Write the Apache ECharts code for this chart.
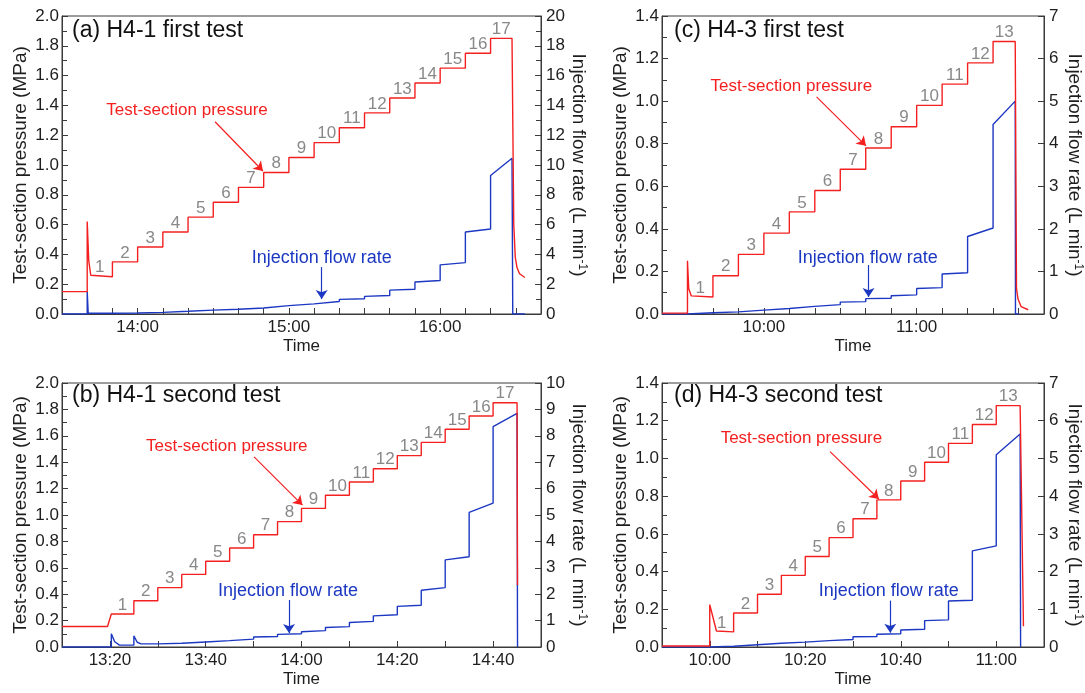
<!DOCTYPE html>
<html><head><meta charset="utf-8">
<script src="https://cdn.jsdelivr.net/npm/echarts@6/dist/echarts.min.js"></script>
<style>html,body{margin:0;padding:0;background:#fff}#c{width:1085px;height:693px}</style>
</head><body><div id="c"></div><script>
// ---------- Panel (a) H4-1 first test ----------
const stepTimesA = ['13:40','13:50','14:00','14:10','14:20','14:30','14:40','14:50','15:00','15:10','15:20','15:30','15:40','15:50','16:00','16:10','16:20'];
const stepEndA = '16:28.5';
const pressA = [0.25,0.35,0.45,0.55,0.65,0.75,0.85,0.95,1.05,1.15,1.25,1.35,1.45,1.55,1.65,1.75,1.85];
const flowStartA = [0.05,0.06,0.10,0.17,0.24,0.30,0.38,0.53,0.65,0.80,0.98,1.18,1.60,2.15,3.30,5.50,9.30];
const flowEndA   = [0.05,0.07,0.11,0.18,0.26,0.32,0.40,0.56,0.68,0.84,1.02,1.24,1.66,2.25,3.45,5.70,10.45];
const pressPreA = [['13:30',0.15],['13:40',0.15]];
const pressSpikeA = [[0, [['13:40',0.62],['13:40.6',0.36],['13:41.4',0.26]]]];
const pressPostA = [['16:29.2',0.6],['16:29.8',0.38],['16:30.5',0.31],['16:31.5',0.27],['16:33.6',0.245]];
const flowPreA = [['13:30',0],['13:40',0]];
const flowSpikeA = [[0, [['13:40',1.5],['13:40.4',0.05]]]];
const flowPostA = [['16:28.8',0],['16:33.6',0]];

// ---------- Panel (b) H4-1 second test ----------
const stepTimesB = ['13:20.3','13:25','13:30','13:35','13:40','13:45','13:50','13:55','14:00','14:05','14:10','14:15','14:20','14:25','14:30','14:35','14:40'];
const stepEndB = '14:45';
const pressB = [0.25,0.35,0.45,0.55,0.65,0.75,0.85,0.95,1.05,1.15,1.25,1.35,1.45,1.55,1.65,1.75,1.85];
const flowStartB = [0.07,0.12,0.13,0.18,0.22,0.28,0.38,0.48,0.58,0.74,0.93,1.18,1.54,2.15,3.30,5.10,8.35];
const flowEndB   = [0.07,0.12,0.14,0.19,0.24,0.30,0.40,0.50,0.62,0.77,0.97,1.22,1.58,2.25,3.42,5.45,8.85];
const pressPreB = [['13:10',0.155],['13:19.5',0.155]];
const pressSpikeB = [];
const pressPostB = [['14:45.1',0.47]];
const flowPreB = [['13:10',0],['13:20.3',0]];
const flowSpikeB = [[0, [['13:20.3',0.5],['13:21',0.2],['13:22',0.07]]], [1, [['13:25',0.42],['13:25.7',0.18],['13:26.5',0.12]]]];
const flowPostB = [['14:45.1',0]];

// ---------- Panel (c) H4-3 first test ----------
const stepTimesC = ['9:30','9:40','9:50','10:00','10:10','10:20','10:30','10:40','10:50','11:00','11:10','11:20','11:30'];
const stepEndC = '11:38.7';
const pressC = [0.08,0.18,0.28,0.38,0.48,0.58,0.68,0.78,0.88,0.98,1.08,1.18,1.28];
const flowStartC = [0.02,0.05,0.08,0.12,0.17,0.21,0.28,0.36,0.43,0.60,0.94,1.82,4.45];
const flowEndC   = [0.03,0.05,0.09,0.13,0.18,0.22,0.29,0.37,0.45,0.62,0.97,2.02,5.00];
const pressPreC = [['9:20',0.004],['9:30',0.004]];
const pressSpikeC = [[0, [['9:30',0.25],['9:30.5',0.12],['9:31.5',0.085]]]];
const pressPostC = [['11:39.2',0.12],['11:39.8',0.07],['11:41',0.035],['11:43.8',0.02]];
const flowPreC = [['9:20',0],['9:30',0]];
const flowSpikeC = [];
const flowPostC = [['11:38.8',0],['11:40',0]];

// ---------- Panel (d) H4-3 second test ----------
const stepTimesD = ['10:00','10:05','10:10','10:15','10:20','10:25','10:30','10:35','10:40','10:45','10:50','10:55','11:00'];
const stepEndD = '11:05';
const pressD = [0.08,0.18,0.28,0.38,0.48,0.58,0.68,0.78,0.88,0.98,1.08,1.18,1.28];
const flowStartD = [0.02,0.05,0.09,0.12,0.16,0.19,0.27,0.34,0.45,0.70,1.22,2.55,5.10];
const flowEndD   = [0.02,0.06,0.10,0.13,0.17,0.20,0.28,0.35,0.47,0.72,1.24,2.68,5.65];
const pressPreD = [['9:50',0.005],['10:00',0.005]];
const pressSpikeD = [[0, [['10:00',0.225],['10:01.4',0.085]]]];
const pressPostD = [['11:05.7',0.11]];
const flowPreD = [['9:50',0],['10:00',0]];
const flowSpikeD = [];
const flowPostD = [['11:05.1',0]];

// ---------- Annotations (data coordinates: time, value) ----------
const annoA = {pText:['14:19.6',1.37], pFrom:['14:30.7',1.29], pTo:['14:49.7',0.96], fText:['15:13',3.76], fFrom:['15:13',3.15], fTo:['15:13',1.0]};
const annoB = {pText:['13:44.4',1.52], pFrom:['13:50.1',1.44], pTo:['14:00.2',1.075], fText:['13:57.2',2.12], fFrom:['13:57.4',1.78], fTo:['13:57.4',0.53]};
const annoC = {pText:['10:10.8',1.07], pFrom:['10:20.7',1.02], pTo:['10:40.1',0.79], fText:['10:40.8',1.315], fFrom:['10:41.1',1.15], fTo:['10:41.1',0.40]};
const annoD = {pText:['10:19.2',1.108], pFrom:['10:25.2',1.036], pTo:['10:35.4',0.785], fText:['10:37.5',1.49], fFrom:['10:37.8',1.23], fTo:['10:37.8',0.38]};

const titles = ['(a) H4-1 first test','(b) H4-1 second test','(c) H4-3 first test','(d) H4-3 second test'];

// ---------- helpers ----------
const FONT = '"Liberation Sans", Arial, Helvetica, sans-serif';
const RED = '#f42020', BLUE = '#1c38c2', AX = '#3a3a3a', TXT = '#1e1e1e';
function hm(s){ const [h,m] = s.split(':'); return (+h)*60 + parseFloat(m); }
function fmtHM(v){ const h = Math.floor(v/60), m = Math.round(v - h*60); return h + ':' + String(m).padStart(2,'0'); }
function buildStep(pre, spikes, times, end, startVals, endVals, post){
  const pts = pre.map(([t,v]) => [hm(t), v]);
  const n = times.length;
  for (let i = 0; i < n; i++){
    let s = hm(times[i]);
    const e = i + 1 < n ? hm(times[i+1]) : hm(end);
    const sp = spikes.find(x => x[0] === i);
    if (sp){ sp[1].forEach(([t,v]) => pts.push([hm(t), v])); s = hm(sp[1][sp[1].length-1][0]); }
    pts.push([s, startVals[i]]);
    pts.push([e, endVals[i]]);
  }
  post.forEach(([t,v]) => pts.push([hm(t), v]));
  return pts;
}
function stepLabels(times, end, levels){
  return times.map((t,i) => {
    const s = hm(t), e = i + 1 < times.length ? hm(times[i+1]) : hm(end);
    return [(s+e)/2, levels[i], i+1];
  });
}
const C = a => [hm(a[0]), a[1]];

const panels = [
  {grid:{left:62, top:16, width:479, height:298}, xMin:'13:30', xMax:'16:40', every:60, pMax:2.0, fMax:20, fInt:2, fMinor:true, titleLeft:72, titleTop:19,
   times:stepTimesA, end:stepEndA, press:pressA, fS:flowStartA, fE:flowEndA, pPre:pressPreA, pSp:pressSpikeA, pPost:pressPostA, fPre:flowPreA, fSp:flowSpikeA, fPost:flowPostA, anno:annoA},
  {grid:{left:62, top:383, width:479, height:264}, xMin:'13:10', xMax:'14:50', every:20, pMax:2.0, fMax:10, fInt:1, fMinor:false, titleLeft:72, titleTop:384,
   times:stepTimesB, end:stepEndB, press:pressB, fS:flowStartB, fE:flowEndB, pPre:pressPreB, pSp:pressSpikeB, pPost:pressPostB, fPre:flowPreB, fSp:flowSpikeB, fPost:flowPostB, anno:annoB},
  {grid:{left:662, top:16, width:383, height:298}, xMin:'9:20', xMax:'11:50', every:60, pMax:1.4, fMax:7, fInt:1, fMinor:false, titleLeft:674, titleTop:19,
   times:stepTimesC, end:stepEndC, press:pressC, fS:flowStartC, fE:flowEndC, pPre:pressPreC, pSp:pressSpikeC, pPost:pressPostC, fPre:flowPreC, fSp:flowSpikeC, fPost:flowPostC, anno:annoC},
  {grid:{left:662, top:383, width:383, height:264}, xMin:'9:50', xMax:'11:10', every:20, pMax:1.4, fMax:7, fInt:1, fMinor:false, titleLeft:674, titleTop:384,
   times:stepTimesD, end:stepEndD, press:pressD, fS:flowStartD, fE:flowEndD, pPre:pressPreD, pSp:pressSpikeD, pPost:pressPostD, fPre:flowPreD, fSp:flowSpikeD, fPost:flowPostD, anno:annoD}
];

const tickStyle = {color: AX, width: 1};
const option = {
  animation: false,
  backgroundColor: '#fff',
  title: panels.map((p,i) => ({text: titles[i], left: p.titleLeft, top: p.titleTop, padding: 0,
    textStyle: {fontSize: 23, fontWeight: 'normal', color: '#111', fontFamily: FONT}})),
  grid: panels.map(p => Object.assign({show: true, borderColor: AX, borderWidth: 1, backgroundColor: 'transparent'}, p.grid)),
  xAxis: panels.map((p,i) => ({
    type: 'value', gridIndex: i, min: hm(p.xMin), max: hm(p.xMax), interval: 10,
    axisLine: {show: true, lineStyle: tickStyle},
    axisTick: {show: true, inside: true, length: 6, lineStyle: tickStyle},
    axisLabel: {margin: 5, color: TXT, fontSize: 17, fontFamily: FONT, formatter: v => (Math.round(v) % p.every === 0) ? fmtHM(v) : ''},
    splitLine: {show: false},
    name: 'Time', nameLocation: 'middle', nameGap: 24,
    nameTextStyle: {fontSize: 17, color: TXT, fontFamily: FONT}
  })),
  yAxis: [].concat(...panels.map((p,i) => [
    {type: 'value', gridIndex: i, position: 'left', min: 0, max: p.pMax, interval: 0.2,
     axisLine: {show: true, lineStyle: tickStyle},
     axisTick: {show: true, inside: true, length: 6, lineStyle: tickStyle},
     minorTick: {show: true, splitNumber: 2, length: 5, lineStyle: tickStyle},
     axisLabel: {margin: 3, color: TXT, fontSize: 17, fontFamily: FONT, formatter: v => v.toFixed(1)},
     splitLine: {show: false}, minorSplitLine: {show: false},
     name: 'Test-section pressure (MPa)', nameLocation: 'middle', nameRotate: 90, nameGap: 32,
     nameTextStyle: {fontSize: 19, color: TXT, fontFamily: FONT}},
    {type: 'value', gridIndex: i, position: 'right', min: 0, max: p.fMax, interval: p.fInt,
     axisLine: {show: true, lineStyle: tickStyle},
     axisTick: {show: true, inside: true, length: 6, lineStyle: tickStyle},
     minorTick: {show: p.fMinor, splitNumber: 2, length: 5, lineStyle: tickStyle},
     axisLabel: {margin: 5, color: TXT, fontSize: 17, fontFamily: FONT},
     splitLine: {show: false}, minorSplitLine: {show: false},
     name: '{a|Injection flow rate (L min}{s|-1}{a|)}', nameLocation: 'middle', nameRotate: -90, nameGap: 20,
     nameTextStyle: {fontSize: 19, color: TXT, fontFamily: FONT,
       rich: {a: {fontSize: 19, color: TXT, fontFamily: FONT}, s: {fontSize: 12, color: TXT, fontFamily: FONT, verticalAlign: 'top', padding: [0,0,8,0]}}}}
  ])),
  series: [].concat(...panels.map((p,i) => [
    {type: 'line', xAxisIndex: i, yAxisIndex: 2*i+1, showSymbol: false, silent: true,
     data: buildStep(p.fPre, p.fSp, p.times, p.end, p.fS, p.fE, p.fPost),
     lineStyle: {color: BLUE, width: 1.4}, itemStyle: {color: BLUE},
     markLine: {silent: true, symbol: ['none','arrow'], symbolSize: 9, label: {show: false},
       lineStyle: {color: BLUE, width: 1.2, type: 'solid'},
       data: [[{coord: C(p.anno.fFrom)}, {coord: C(p.anno.fTo)}]]},
     markPoint: {silent: true, symbol: 'rect', symbolSize: 1, itemStyle: {color: 'rgba(0,0,0,0)'},
       label: {show: true, position: 'inside', formatter: 'Injection flow rate', color: BLUE, fontSize: 18, fontFamily: FONT},
       data: [{coord: C(p.anno.fText)}]}},
    {type: 'line', xAxisIndex: i, yAxisIndex: 2*i, showSymbol: false, silent: true,
     data: buildStep(p.pPre, p.pSp, p.times, p.end, p.press, p.press, p.pPost),
     lineStyle: {color: RED, width: 1.4}, itemStyle: {color: RED},
     markLine: {silent: true, symbol: ['none','arrow'], symbolSize: 9, label: {show: false},
       lineStyle: {color: RED, width: 1.2, type: 'solid'},
       data: [[{coord: C(p.anno.pFrom)}, {coord: C(p.anno.pTo)}]]},
     markPoint: {silent: true, symbol: 'rect', symbolSize: 1, itemStyle: {color: 'rgba(0,0,0,0)'},
       label: {show: true, position: 'inside', formatter: 'Test-section pressure', color: RED, fontSize: 17, fontFamily: FONT},
       data: [{coord: C(p.anno.pText)}]}},
    {type: 'scatter', xAxisIndex: i, yAxisIndex: 2*i, silent: true, symbolSize: 1,
     itemStyle: {color: 'rgba(0,0,0,0)'},
     data: stepLabels(p.times, p.end, p.press),
     label: {show: true, position: 'top', distance: 0, color: '#6a6a6a', fontSize: 17, fontFamily: FONT, formatter: q => q.value[2]}}
  ]))
};
const chart = echarts.init(document.getElementById('c'), null, {renderer: 'canvas'});
chart.setOption(option);
</script></body></html>
